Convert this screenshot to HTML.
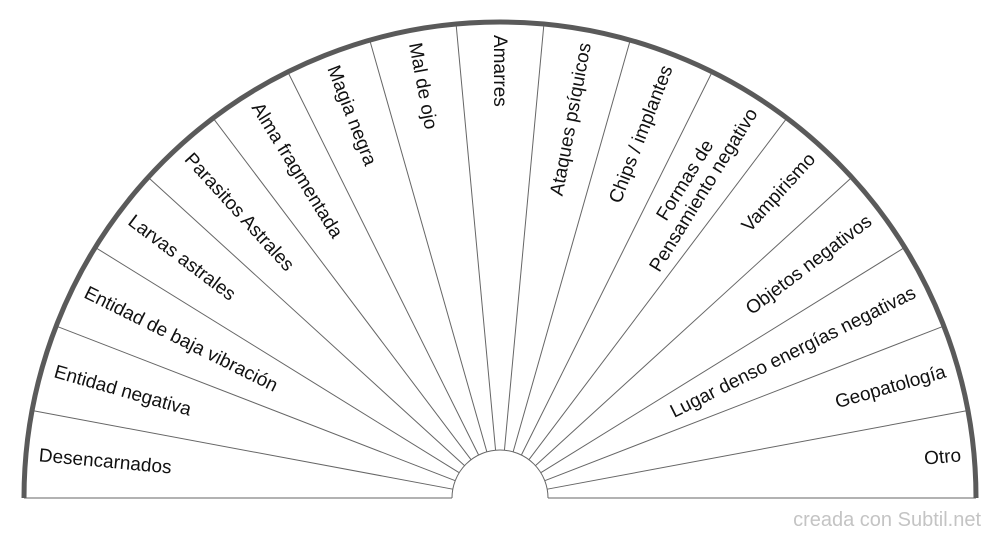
<!DOCTYPE html>
<html><head><meta charset="utf-8"><style>
html,body{margin:0;padding:0;background:#fff;}
svg{display:block;}
text{font-family:"Liberation Sans",Arial,sans-serif;font-size:19px;fill:#111;}
</style></head><body>
<svg id="s" width="1000" height="540" xmlns="http://www.w3.org/2000/svg">
<g id="g"></g>
<text x="981" y="526" text-anchor="end" style="fill:#c4c4c4;font-size:20px">creada con Subtil.net</text>
</svg>
<script>
const cx=500,cy=498,R=476,r=48,N=17;
const labels=["Desencarnados","Entidad negativa","Entidad de baja vibración","Larvas astrales","Parasitos Astrales","Alma fragmentada","Magia negra","Mal de ojo","Amarres","Ataques psíquicos","Chips / implantes",["Formas de","Pensamiento negativo"],"Vampirismo","Objetos negativos","Lugar denso energías negativas","Geopatología","Otro"];
let h='';
for(let k=0;k<=N;k++){
 const a=(180-k*180/N)*Math.PI/180;
 const x1=cx+r*Math.cos(a),y1=cy-r*Math.sin(a),x2=cx+R*Math.cos(a),y2=cy-R*Math.sin(a);
 h+=`<line x1="${x1}" y1="${y1}" x2="${x2}" y2="${y2}" stroke="#666" stroke-width="1"/>`;
}
h+=`<path d="M${cx-r} ${cy} A${r} ${r} 0 0 1 ${cx+r} ${cy}" fill="#fff" stroke="#666" stroke-width="1"/>`;
h+=`<path d="M${cx-R} ${cy} A${R} ${R} 0 0 1 ${cx+R} ${cy}" fill="none" stroke="#5a5a5a" stroke-width="5"/>`;
for(let k=0;k<N;k++){
 const t=180-(k+0.5)*180/N; const a=t*Math.PI/180;
 const rr=R-13; const x=cx+rr*Math.cos(a), y=cy-rr*Math.sin(a);
 const left=t>=89;
 const rot=left?180-t:-t;
 const anchor=left?'start':'end';
 const L=labels[k];
 if(Array.isArray(L)){
  h+=`<text x="${x}" y="${y}" text-anchor="${anchor}" transform="rotate(${rot} ${x} ${y})"><tspan x="${x-50}" dy="-4">${L[0]}</tspan><tspan x="${x}" dy="21">${L[1]}</tspan></text>`;
 } else {
  h+=`<text x="${x}" y="${y+6}" text-anchor="${anchor}" transform="rotate(${rot} ${x} ${y})">${L}</text>`;
 }
}
document.getElementById('g').innerHTML=h;
</script>
</body></html>
